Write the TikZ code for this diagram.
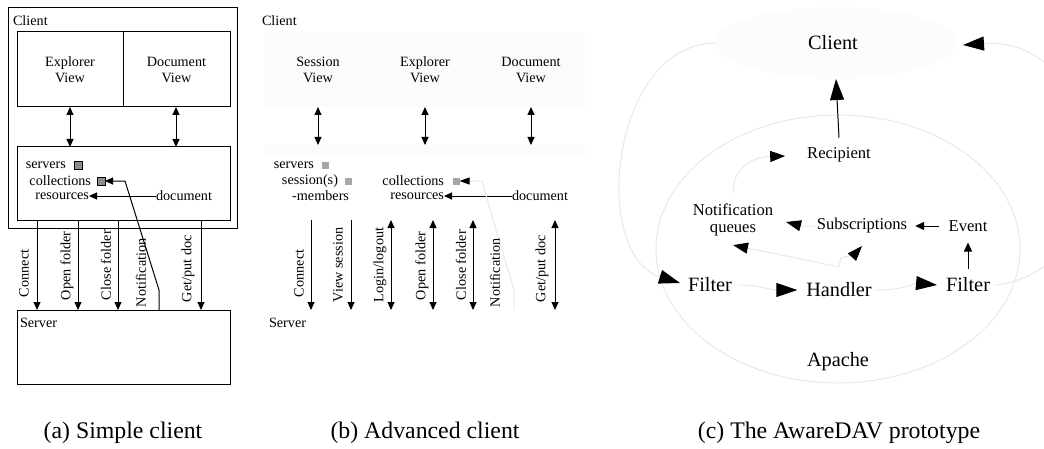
\documentclass[tikz,border=0pt]{standalone}
\usepackage{fontspec}
\setmainfont{Liberation Serif}
\usetikzlibrary{arrows.meta,shapes.geometric}
\newcommand\txtSm{\fontsize{7.1}{8}\selectfont}
\newcommand\txtMd{\fontsize{8.3}{8.5}\selectfont}
\newcommand\txtBg{\fontsize{10.15}{12}\selectfont}
\newcommand\txtCap{\fontsize{11.9}{14}\selectfont}
\begin{document}
\begin{tikzpicture}[x=0.5pt,y=-0.5pt,
  every node/.style={inner sep=0pt, outer sep=0pt},
  boxA/.style={draw, line width=0.5pt, anchor=north west},
  lbl/.style={font=\txtSm},
  vlbl/.style={font=\txtSm, rotate=90, anchor=west},
  conn/.style={line width=0.5pt},
  faint/.style={line width=0.5pt, draw=black!9},
  tipS/.style={-{Triangle[length=4pt,width=3.5pt]}},
  tipSS/.style={{Triangle[length=4pt,width=3.5pt]}-{Triangle[length=4pt,width=3.5pt]}},
  tipB/.style={-{Triangle[length=10.5pt,width=7pt,color=black]}},
  tipM/.style={-{Triangle[length=7.5pt,width=5.5pt,color=black]}},
  tipC/.style={-{Triangle[length=4.5pt,width=4pt,color=black]}},
  sqA/.style={draw, line width=0.4pt, fill=black!45, minimum size=4pt},
  sqB/.style={fill=black!35, minimum size=3.5pt},
  captxt/.style={font=\txtCap}
]
\useasboundingbox (0,0) rectangle (1044,449);

% ---------------- (a) Simple client ----------------
\node[boxA, minimum width=114.5pt, minimum height=110pt] (cliA) at (8,8) {};
\node[lbl, anchor=west] (cliAt) at (13,21) {Client};
\node[boxA, minimum width=53pt, minimum height=37.5pt] (expA) at (17,32) {};
\node[boxA, minimum width=53.5pt, minimum height=37.5pt] (docvA) at (123,32) {};
\node[lbl, align=center] (expAt) at (expA.center) {Explorer\\View};
\node[lbl, align=center] (docvAt) at (docvA.center) {Document\\View};
\node[boxA, minimum width=106.5pt, minimum height=36.5pt] (inA) at (17,147) {};
\node[boxA, minimum width=106.5pt, minimum height=37pt] (srvA) at (17,310) {};
\node[lbl, anchor=west] (srvAt) at (20,323) {Server};

\draw[conn, tipSS] ([xshift=26.5pt]expA.south west) -- ([xshift=26.5pt]expA.south west |- inA.north);
\draw[conn, tipSS] ([xshift=26.5pt]docvA.south west) -- ([xshift=26.5pt]docvA.south west |- inA.north);

\node[lbl, anchor=east] (servA) at (66,165) {servers};
\node[sqA] (sqSrvA) at (78,165) {};
\node[lbl, anchor=east] (colA) at (91,181) {collections};
\node[sqA] (sqColA) at (101,181) {};
\node[lbl, anchor=east] (resA) at (89,196) {resources};
\node[lbl, anchor=west] (docA) at (156,196) {document};
\draw[conn, tipS] (docA.west) -- (resA.east);

\draw[conn, tipS] ([xshift=10pt]inA.south west) -- ([xshift=10pt]srvA.north west);
\draw[conn, tipS] ([xshift=30.5pt]inA.south west) -- ([xshift=30.5pt]srvA.north west);
\draw[conn, tipS] ([xshift=50.5pt]inA.south west) -- ([xshift=50.5pt]srvA.north west);
\draw[conn, tipS] ([xshift=92pt]inA.south west) -- ([xshift=92pt]srvA.north west);
\draw[conn, tipS] ([xshift=71pt]srvA.north west) -- ++(0,-20) -- (125,181) -- (sqColA.east);

\node[vlbl] (lConA) at (24,297) {Connect};
\node[vlbl] (lOpA) at (67,300) {Open folder};
\node[vlbl] (lClA) at (106,300) {Close folder};
\node[vlbl] (lNoA) at (141,307) {Notification};
\node[vlbl] (lGpA) at (188,302) {Get/put doc};

\node[captxt] (capA) at (123,433) {(a) Simple client};

% ---------------- (b) Advanced client ----------------
\fill[black!1.5] (265,32) rectangle (585,107);
\fill[black!1.5] (265,145) rectangle (585,155);
\node[lbl, anchor=west] (cliB) at (262,21) {Client};
\node[lbl, align=center] (sesB) at (318,70) {Session\\View};
\node[lbl, align=center] (expB) at (425,70) {Explorer\\View};
\node[lbl, align=center] (docvB) at (531,70) {Document\\View};
\coordinate (bViews) at (0,107);
\coordinate (bInner) at (0,145);
\draw[conn, tipSS] ([xshift=159pt]bViews) -- ([xshift=159pt]bInner);
\draw[conn, tipSS] ([xshift=212.5pt]bViews) -- ([xshift=212.5pt]bInner);
\draw[conn, tipSS] ([xshift=265.5pt]bViews) -- ([xshift=265.5pt]bInner);

\node[lbl, anchor=east] (servB) at (314,165) {servers};
\node[sqB] (sqSrvB) at (325,165) {};
\node[lbl, anchor=east] (sesnB) at (338,181) {session(s)};
\node[sqB] (sqSesB) at (348,181) {};
\node[lbl, anchor=east] (memB) at (349,196) {-members};
\node[lbl, anchor=east] (colB) at (444,181) {collections};
\node[sqB] (sqColB) at (456,181) {};
\node[lbl, anchor=east] (resB) at (444,196) {resources};
\node[lbl, anchor=west] (docB) at (512,196) {document};
\draw[conn, tipS] (docB.west) -- (resB.east);

\coordinate (bIn) at (0,220);
\coordinate (bSrv) at (0,310);
\draw[conn, tipS] ([xshift=155.5pt]bIn) -- ([xshift=155.5pt]bSrv);
\draw[conn, tipS] ([xshift=175.5pt]bIn) -- ([xshift=175.5pt]bSrv);
\draw[conn, tipSS] ([xshift=195.5pt]bIn) -- ([xshift=195.5pt]bSrv);
\draw[conn, tipSS] ([xshift=216.5pt]bIn) -- ([xshift=216.5pt]bSrv);
\draw[conn, tipSS] ([xshift=236.5pt]bIn) -- ([xshift=236.5pt]bSrv);
\draw[conn, tipSS] ([xshift=277.5pt]bIn) -- ([xshift=277.5pt]bSrv);
\draw[faint, -{Triangle[length=5pt,width=3.5pt,color=black]}] ([xshift=257pt]bSrv) -- ++(0,-20) -- (493,220) -- (482,181) -- (sqColB.east);

\node[vlbl] (lConB) at (299,297) {Connect};
\node[vlbl] (lVsB) at (338,302) {View session};
\node[vlbl] (lLgB) at (380,302) {Login/logout};
\node[vlbl] (lOpB) at (422,300) {Open folder};
\node[vlbl] (lClB) at (461,300) {Close folder};
\node[vlbl] (lNoB) at (495,307) {Notification};
\node[vlbl] (lGpB) at (542,302) {Get/put doc};
\node[lbl, anchor=west] (srvB) at (269,323) {Server};

\node[captxt] (capB) at (425,433) {(b) Advanced client};

% ---------------- (c) AwareDAV prototype ----------------
\node[ellipse, fill=black!1.2, minimum width=121pt, minimum height=36pt] (cliCe) at (836,43) {};
\node[font=\txtBg] (cliC) at (833,43) {Client};
\node[ellipse, draw=black!9, line width=0.5pt, minimum width=182pt, minimum height=134pt] (apa) at (838,249) {};
\node[font=\txtBg] (apaL) at (838,362) {Apache};
\node[font=\txtMd] (rec) at (839,155) {Recipient};
\node[font=\txtMd, align=center] (nq) at (733,220) {Notification\\queues};
\node[font=\txtMd] (sub) at (862,226) {Subscriptions};
\node[font=\txtMd] (evt) at (968,226) {Event};
\node[font=\txtBg] (fL) at (710,285) {Filter};
\node[font=\txtBg] (hd) at (839,290) {Handler};
\node[font=\txtBg] (fR) at (968,285) {Filter};

\draw[conn, tipB] ([yshift=5pt]rec.north) -- (cliCe.south);
\draw[faint, tipB] ([xshift=3pt]fL.east) .. controls (760,285) and (770,290) .. ([xshift=-4.5pt]hd.west);
\draw[faint, tipB] ([xshift=2pt]hd.east) .. controls (905,290) and (915,283) .. ([xshift=-4.5pt]fR.west);
\draw[conn, tipC] ([yshift=4.5pt]fR.north) -- ([yshift=-5.5pt]evt.south);
\draw[conn, tipC] ([xshift=-5pt]evt.west) -- ([xshift=4pt]sub.east);
\draw[faint, tipM] ([xshift=-1pt]sub.west) -- ++(-13,0) -- ([xshift=6.5pt,yshift=-1pt]nq.east);
\draw[faint, tipM] ([yshift=8pt]hd.north) -- ++(2,-9) -- ++(13,-3) -- ([yshift=-6.25pt]sub.south);
\draw[faint, tipM] ([yshift=8pt]hd.north) -- ([yshift=-4.5pt]nq.south);
\draw[faint, tipM] ([yshift=5.5pt]nq.north) .. controls (733,165) and (755,157) .. ([xshift=-11pt,yshift=-0.5pt]rec.west);
\draw[faint, tipB] (cliCe.west) .. controls (610,45) and (590,255) .. ([xshift=-4pt,yshift=1pt]fL.west);
\draw[faint, tipB] ([xshift=2.75pt]fR.east) .. controls (1130,270) and (1110,35) .. ([xshift=3pt,yshift=-1pt]cliCe.east);

\node[captxt] (capC) at (839,433) {(c) The AwareDAV prototype};
\end{tikzpicture}
\end{document}
